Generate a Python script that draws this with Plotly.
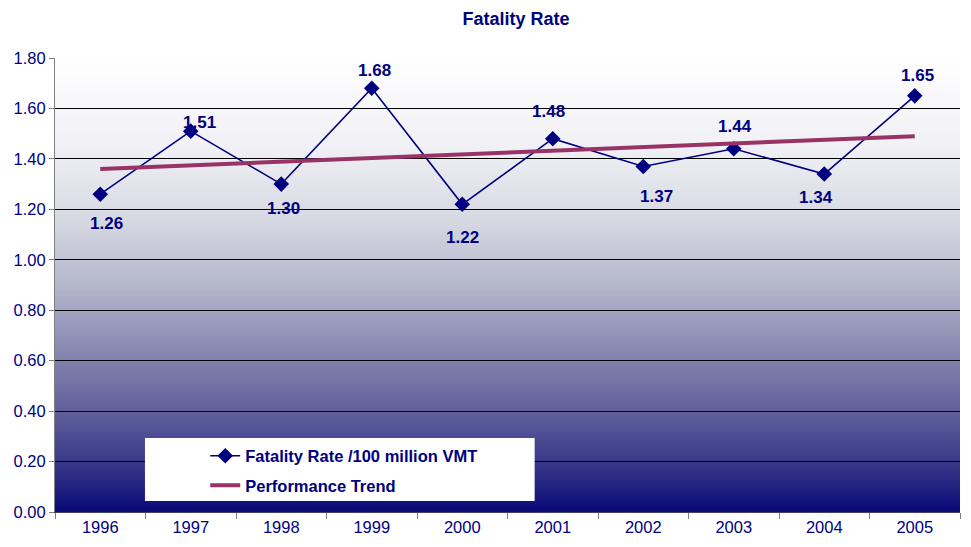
import plotly.graph_objects as go

years = ["1996", "1997", "1998", "1999", "2000", "2001", "2002", "2003", "2004", "2005"]
fatality_rate = [1.26, 1.51, 1.30, 1.68, 1.22, 1.48, 1.37, 1.44, 1.34, 1.65]
trend_years = ["1996", "2005"]
trend_values = [1.36, 1.49]
y_ticks = [0.0, 0.2, 0.4, 0.6, 0.8, 1.0, 1.2, 1.4, 1.6, 1.8]

# label nudges in px (style only): dy + above / - below the marker
label_dy = [-29, 9, -24, 18, -33, 27, -30, 22, -23, 20]
label_dx = [6, 9, 2, 3, 0, -4, 13, 1, -8, 3]

navy = "#000080"
font = "Liberation Sans, Arial, sans-serif"

# background gradient stops (fraction from top, rgb)
stops = [
    (0.0, (255, 255, 255)),
    (0.2, (240, 240, 245)),
    (0.36, (214, 216, 226)),
    (0.49, (184, 186, 206)),
    (0.665, (130, 130, 174)),
    (0.8, (90, 90, 154)),
    (0.89, (58, 58, 138)),
    (0.95, (32, 32, 128)),
    (1.0, (10, 10, 120)),
]


def grad_color(t):
    for (t0, c0), (t1, c1) in zip(stops[:-1], stops[1:]):
        if t <= t1:
            f = (t - t0) / (t1 - t0)
            return "rgb(%d,%d,%d)" % tuple(round(a + (b - a) * f) for a, b in zip(c0, c1))
    return "rgb(%d,%d,%d)" % stops[-1][1]


shapes = []
n = 150
for i in range(n):
    t = (i + 0.5) / n
    shapes.append(dict(type="rect", xref="paper", yref="paper",
                       x0=0, x1=1, y0=1 - (i + 1) / n, y1=1 - i / n + 0.002,
                       fillcolor=grad_color(t), line=dict(width=0), layer="below"))

# white box behind the legend
shapes.append(dict(type="rect", xref="paper", yref="paper",
                   x0=0.0994, x1=0.530, y0=0.024, y1=0.163,
                   fillcolor="white", line=dict(width=0), layer="above"))

fig = go.Figure()
fig.add_trace(go.Scatter(
    x=years, y=fatality_rate, mode="lines+markers",
    name="Fatality Rate /100 million VMT",
    line=dict(color=navy, width=1.6),
    marker=dict(symbol="diamond", size=12, color=navy),
    legendgroup="a",
))
fig.add_trace(go.Scatter(
    x=trend_years, y=trend_values, mode="lines",
    name="Performance Trend",
    line=dict(color="#993366", width=4),
    legendgroup="b",
))

# data labels; category axis positions given by index
annotations = []
for i, (v, dx, dy) in enumerate(zip(fatality_rate, label_dx, label_dy)):
    annotations.append(dict(x=i, y=v, xref="x", yref="y", text="<b>%.2f</b>" % v,
                            showarrow=False, xshift=dx, yshift=dy,
                            font=dict(family=font, size=17, color=navy)))

# page body has an 8px margin, so the figure is sized to end at the window edge
fig.update_layout(
    width=963, height=539,
    margin=dict(l=47, r=11, t=50, b=35, autoexpand=False),
    paper_bgcolor="white",
    plot_bgcolor="rgba(0,0,0,0)",
    title=dict(text="<b>Fatality Rate</b>", x=0.5275, xref="container", xanchor="center",
               y=0.981, yref="container", yanchor="middle",
               font=dict(family=font, size=18, color=navy)),
    font=dict(family=font, size=16, color=navy),
    shapes=shapes,
    annotations=annotations,
    showlegend=True,
    legend=dict(x=0.166, y=0.162, xanchor="left", yanchor="top",
                bgcolor="rgba(0,0,0,0)", traceorder="grouped", tracegroupgap=5,
                font=dict(family=font, size=16.5, color=navy, weight="bold")),
    xaxis=dict(type="category", range=[-0.5, 9.5], showgrid=False, automargin=False,
               ticks="outside", tickson="boundaries", ticklen=6, tickcolor="#808080",
               showline=True, linecolor="#404060", linewidth=1,
               tickfont=dict(family=font, size=16.5, color=navy), fixedrange=True),
    yaxis=dict(range=[0, 1.8], tickvals=y_ticks, tickformat=".2f", automargin=False,
               showgrid=True, gridcolor="#000000", gridwidth=1,
               ticks="outside", ticklen=5, tickcolor="#808080",
               showline=True, linecolor="#808080", linewidth=1,
               zeroline=False,
               tickfont=dict(family=font, size=16.5, color=navy)),
)

fig.write_html("out.html")
